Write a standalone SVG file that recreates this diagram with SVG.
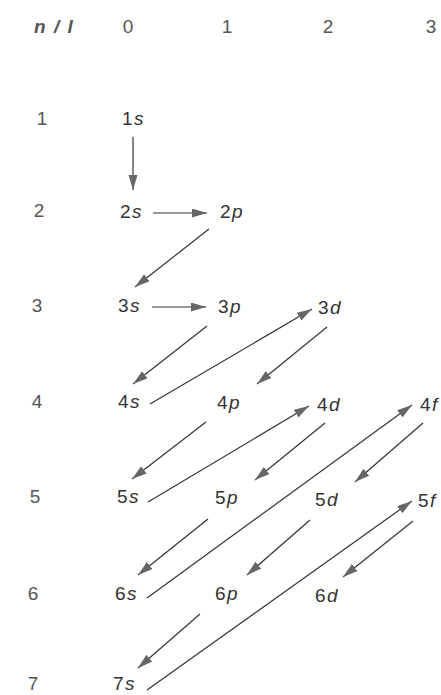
<svg xmlns="http://www.w3.org/2000/svg" width="441" height="695" viewBox="0 0 441 695">
<style>
.t{font-family:"Liberation Sans",Arial,sans-serif;font-size:19px;fill:#333;letter-spacing:1.5px}
.i{font-style:italic}
.h{font-family:"Liberation Sans",Arial,sans-serif;font-size:19px;fill:#555}
.c line{stroke:#333;stroke-width:1.2;marker-end:url(#ah)}
</style>
<defs>
<marker id="ah" markerUnits="userSpaceOnUse" markerWidth="16" markerHeight="10" refX="15" refY="4.5" orient="auto">
<path d="M0,0 L15,4.5 L0,9 z" fill="#666"/>
</marker>
</defs>
<g id="header">
<text class="h" x="34" y="33" style="font-style:italic;font-weight:bold;letter-spacing:1.5px" fill="#666">n / l</text>
<text class="h" x="128" y="33" text-anchor="middle">0</text>
<text class="h" x="227" y="33" text-anchor="middle">1</text>
<text class="h" x="328" y="33" text-anchor="middle">2</text>
<text class="h" x="431" y="33" text-anchor="middle">3</text>
</g>
<g id="rows">
<text class="h" x="42" y="125" text-anchor="middle">1</text>
<text class="h" x="39" y="217" text-anchor="middle">2</text>
<text class="h" x="37" y="312" text-anchor="middle">3</text>
<text class="h" x="37" y="408" text-anchor="middle">4</text>
<text class="h" x="35" y="503" text-anchor="middle">5</text>
<text class="h" x="33" y="600" text-anchor="middle">6</text>
<text class="h" x="33" y="690" text-anchor="middle">7</text>
</g>
<g id="n1s"><text class="t" x="122" y="125">1<tspan class="i">s</tspan></text></g>
<g id="n2s"><text class="t" x="120" y="218">2<tspan class="i">s</tspan></text></g>
<g id="n2p"><text class="t" x="220" y="218">2<tspan class="i">p</tspan></text></g>
<g id="n3s"><text class="t" x="118" y="312">3<tspan class="i">s</tspan></text></g>
<g id="n3p"><text class="t" x="218" y="313">3<tspan class="i">p</tspan></text></g>
<g id="n3d"><text class="t" x="318" y="314">3<tspan class="i">d</tspan></text></g>
<g id="n4s"><text class="t" x="118" y="408">4<tspan class="i">s</tspan></text></g>
<g id="n4p"><text class="t" x="217" y="409">4<tspan class="i">p</tspan></text></g>
<g id="n4d"><text class="t" x="317" y="411">4<tspan class="i">d</tspan></text></g>
<g id="n4f"><text class="t" x="420" y="411">4<tspan class="i">f</tspan></text></g>
<g id="n5s"><text class="t" x="117" y="503">5<tspan class="i">s</tspan></text></g>
<g id="n5p"><text class="t" x="215" y="504">5<tspan class="i">p</tspan></text></g>
<g id="n5d"><text class="t" x="315" y="506">5<tspan class="i">d</tspan></text></g>
<g id="n5f"><text class="t" x="418" y="507">5<tspan class="i">f</tspan></text></g>
<g id="n6s"><text class="t" x="115" y="600">6<tspan class="i">s</tspan></text></g>
<g id="n6p"><text class="t" x="215" y="600">6<tspan class="i">p</tspan></text></g>
<g id="n6d"><text class="t" x="315" y="602">6<tspan class="i">d</tspan></text></g>
<g id="n7s"><text class="t" x="113" y="690">7<tspan class="i">s</tspan></text></g>
<g id="connectors" class="c">
<line x1="133" y1="137" x2="133" y2="190"/>
<line x1="153" y1="213" x2="207" y2="213"/>
<line x1="209" y1="229" x2="135" y2="287"/>
<line x1="152" y1="307" x2="206" y2="307"/>
<line x1="207" y1="326" x2="133" y2="384"/>
<line x1="150" y1="404" x2="312" y2="309"/>
<line x1="327" y1="327" x2="257" y2="384"/>
<line x1="206" y1="422" x2="132" y2="479"/>
<line x1="148" y1="502" x2="309" y2="406"/>
<line x1="325" y1="423" x2="255" y2="480"/>
<line x1="208" y1="519" x2="138" y2="575"/>
<line x1="147" y1="598" x2="412" y2="405"/>
<line x1="423" y1="423" x2="355" y2="482"/>
<line x1="310" y1="520" x2="247" y2="575"/>
<line x1="200" y1="614" x2="138" y2="668"/>
<line x1="147" y1="690" x2="412" y2="501"/>
<line x1="413" y1="521" x2="343" y2="577"/>
</g>
</svg>
